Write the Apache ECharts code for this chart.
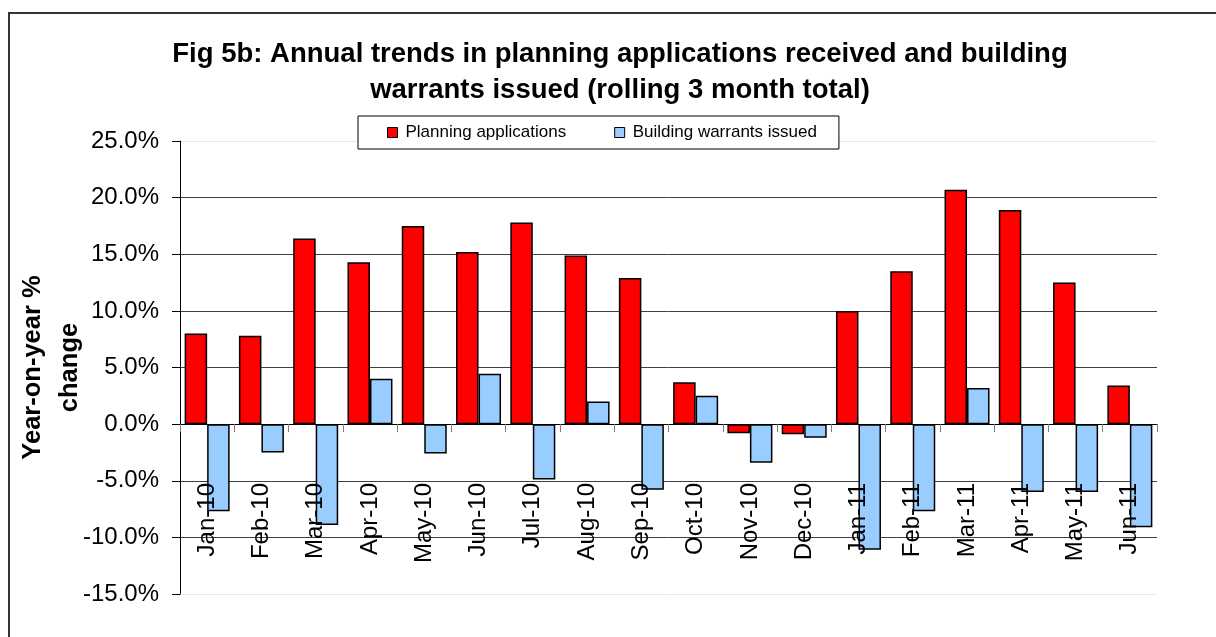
<!DOCTYPE html>
<html>
<head>
<meta charset="utf-8">
<script src="https://cdn.jsdelivr.net/npm/echarts@6/dist/echarts.min.js"></script>
<style>
html,body{margin:0;padding:0;background:#fff;}
#chart{width:1216px;height:637px;}
</style>
</head>
<body>
<div id="chart"></div>
<script>
const categories = ['Jan-10','Feb-10','Mar-10','Apr-10','May-10','Jun-10','Jul-10','Aug-10','Sep-10','Oct-10','Nov-10','Dec-10','Jan-11','Feb-11','Mar-11','Apr-11','May-11','Jun-11'];
const planningApplications = [8.0, 7.8, 16.4, 14.3, 17.5, 15.2, 17.8, 14.9, 12.9, 3.7, -0.8, -0.9, 10.0, 13.5, 20.7, 18.9, 12.5, 3.4];
const buildingWarrants = [-7.7, -2.5, -8.9, 4.0, -2.6, 4.45, -4.9, 2.0, -5.8, 2.5, -3.4, -1.2, -11.1, -7.7, 3.2, -6.0, -6.0, -9.1];
const seriesNames = ['Planning applications', 'Building warrants issued'];
const titleText = 'Fig 5b: Annual trends in planning applications received and building\nwarrants issued (rolling 3 month total)';
const yAxisTitle = 'Year-on-year %\nchange';
const yMin = -15, yMax = 25, yStep = 5;

const FONT = 'Arial, "Liberation Sans", sans-serif';
const chart = echarts.init(document.getElementById('chart'));
chart.setOption({
  animation: false,
  backgroundColor: '#fff',
  textStyle: { fontFamily: FONT },
  graphic: [{
    type: 'rect',
    shape: { x: 9, y: 13, width: 1230, height: 660 },
    style: { fill: 'none', stroke: '#333', lineWidth: 2 },
    silent: true, z: -1
  }],
  title: {
    text: titleText,
    left: 620,
    top: 36,
    padding: 0,
    textAlign: 'center',
    textStyle: { fontFamily: FONT, fontSize: 27.5, fontWeight: 'bold', color: '#000', lineHeight: 36, align: 'center' }
  },
  legend: {
    left: 358, top: 116,
    padding: [8, 22, 8, 29],
    itemGap: 48,
    itemWidth: 10, itemHeight: 10,
    icon: 'rect',
    borderColor: '#000', borderWidth: 1,
    backgroundColor: '#fff',
    textStyle: { fontFamily: FONT, fontSize: 17, color: '#000', padding: [0, 0, 0, 3] },
    itemStyle: { borderColor: '#000', borderWidth: 1 },
    data: seriesNames,
    z: 10
  },
  grid: { left: 180, right: 59, top: 141, bottom: 43, containLabel: false, outerBoundsMode: 'none' },
  xAxis: {
    type: 'category',
    data: categories,
    z: 5,
    axisLine: { onZero: true, lineStyle: { color: '#000', width: 1 } },
    axisTick: { show: true, alignWithLabel: false, length: 8, lineStyle: { color: '#808080' } },
    axisLabel: { interval: 0, rotate: 90, margin: -111, fontSize: 24, color: '#000', fontFamily: FONT, hideOverlap: false },
    splitLine: { show: false }
  },
  yAxis: {
    type: 'value',
    min: yMin, max: yMax, interval: yStep,
    name: yAxisTitle,
    nameLocation: 'middle',
    nameRotate: 90,
    nameGap: 92,
    nameMoveOverlap: false,
    nameTextStyle: { fontFamily: FONT, fontSize: 25.5, fontWeight: 'bold', color: '#000', lineHeight: 37, align: 'center' },
    axisLine: { show: true, lineStyle: { color: '#000', width: 1 } },
    axisTick: { show: true, length: 8, lineStyle: { color: '#000' } },
    axisLabel: { margin: 21, fontSize: 24, color: '#000', fontFamily: FONT, formatter: v => v.toFixed(1) + '%' },
    splitLine: { show: true, lineStyle: { color: ['#e8e8e8', '#404040', '#404040', '#404040', '#404040', '#404040', '#404040', '#404040', '#e8e8e8'], width: 1 } }
  },
  series: [
    {
      name: seriesNames[0], type: 'bar', data: planningApplications,
      barWidth: 22.5, barGap: '0%',
      itemStyle: { color: '#ff0000', borderColor: '#000', borderWidth: 1.5 }
    },
    {
      name: seriesNames[1], type: 'bar', data: buildingWarrants,
      barWidth: 22.5, barGap: '0%',
      itemStyle: { color: '#99ccff', borderColor: '#000', borderWidth: 1.5 }
    }
  ]
});
</script>
</body>
</html>
